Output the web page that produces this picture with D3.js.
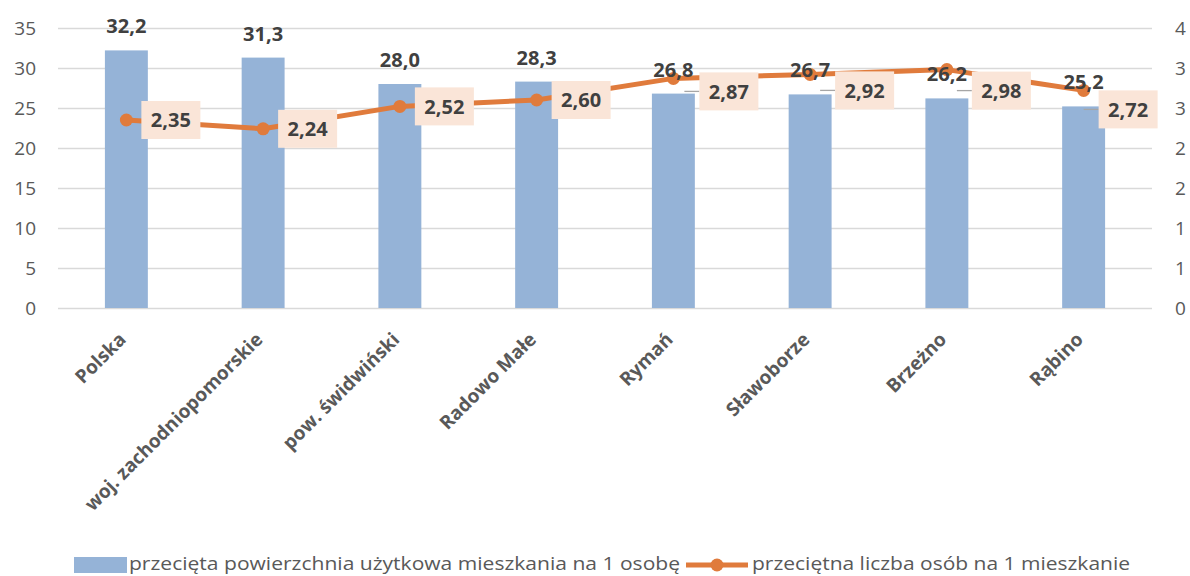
<!DOCTYPE html>
<html>
<head>
<meta charset="utf-8">
<script src="https://cdn.jsdelivr.net/npm/d3@7"></script>
<style>
  body { margin: 0; background: #fff; }
  svg { display: block; font-family: "Open Sans", sans-serif; }
</style>
</head>
<body>
<svg id="chart" width="1190" height="576"></svg>
<script>
// DATA
const categories = ["Polska", "woj. zachodniopomorskie", "pow. świdwiński", "Radowo Małe",
                    "Rymań", "Sławoborze", "Brzeżno", "Rąbino"];
const areaPerPerson = [32.2, 31.3, 28.0, 28.3, 26.8, 26.7, 26.2, 25.2];
const personsPerFlat = [2.35, 2.24, 2.52, 2.60, 2.87, 2.92, 2.98, 2.72];
const leftTicks = [0, 5, 10, 15, 20, 25, 30, 35];
const rightTicks = [0, 0.5, 1, 1.5, 2, 2.5, 3, 3.5];
const seriesNames = ["przecięta powierzchnia użytkowa mieszkania na 1 osobę",
                     "przeciętna liczba osób na 1 mieszkanie"];

// label box placement (layout only, px right / down from the point)
const boxDx = [15, 15, 15, 15, 26, 25, 25, 15];
const boxNudge = [0, 0, 0, 0, 13, 16, 21, 19];

// SETUP
const svg = d3.select("#chart");
const margin = { top: 28, right: 1190 - 1152, bottom: 576 - 308, left: 58 };
const barColor = "#95B3D7", lineColor = "#E07B3C", gridColor = "#D9D9D9", textColor = "#595959";
const pl = d3.formatLocale({ decimal: ",", thousands: " ", grouping: [3], currency: ["", " zł"] });

const x = d3.scaleBand().domain(categories)
    .range([margin.left, 1190 - margin.right])
    .paddingInner(0.686).paddingOuter(0.343);
const yL = d3.scaleLinear().domain([0, 35]).range([308, 28]);
const yR = d3.scaleLinear().domain([0, 3.5]).range([308, 28]);

// gridlines
svg.append("g")
    .attr("transform", "translate(" + margin.left + ",0)")
    .call(d3.axisLeft(yL).tickValues(leftTicks).tickSize(-(1152 - margin.left)).tickFormat(""))
    .call(g => g.select(".domain").remove())
    .call(g => g.selectAll("line").attr("stroke", gridColor).attr("stroke-width", 1.3));

// left axis labels
svg.append("g")
    .attr("transform", "translate(36,0)")
    .call(d3.axisLeft(yL).tickValues(leftTicks).tickSize(0).tickPadding(0))
    .call(g => g.select(".domain").remove())
    .call(g => g.selectAll("text").attr("fill", textColor).style("font-size", "19px")
        .style("font-family", "'Open Sans', sans-serif"));

// right axis labels
svg.append("g")
    .attr("transform", "translate(1175,0)")
    .call(d3.axisRight(yR).tickValues(rightTicks).tickSize(0).tickPadding(0).tickFormat(d3.format(".0f")))
    .call(g => g.select(".domain").remove())
    .call(g => g.selectAll("text").attr("fill", textColor).style("font-size", "19px")
        .style("font-family", "'Open Sans', sans-serif"));

// bars
svg.append("g").selectAll("rect")
    .data(categories)
    .join("rect")
    .attr("x", d => x(d))
    .attr("y", (d, i) => yL(areaPerPerson[i]))
    .attr("width", x.bandwidth())
    .attr("height", (d, i) => yL(0) - yL(areaPerPerson[i]))
    .attr("fill", barColor);

// x labels
const cx = d => x(d) + x.bandwidth() / 2;
svg.append("g").selectAll("text")
    .data(categories)
    .join("text")
    .attr("transform", d => "translate(" + (cx(d) - 4) + ",336) rotate(-45)")
    .attr("text-anchor", "end")
    .attr("dy", "0.35em")
    .attr("fill", textColor)
    .style("font-size", "19px")
    .style("font-weight", "bold")
    .text(d => d);

// line
const line = d3.line()
    .x(d => cx(d))
    .y((d, i) => yR(personsPerFlat[i]));
svg.append("path")
    .datum(categories)
    .attr("d", line)
    .attr("fill", "none")
    .attr("stroke", lineColor)
    .attr("stroke-width", 5)
    .attr("stroke-linejoin", "round");

svg.append("g").selectAll("circle")
    .data(categories)
    .join("circle")
    .attr("cx", d => cx(d))
    .attr("cy", (d, i) => yR(personsPerFlat[i]))
    .attr("r", 6.5)
    .attr("fill", lineColor);

// bar value labels
svg.append("g").selectAll("text")
    .data(categories)
    .join("text")
    .attr("x", d => cx(d))
    .attr("y", (d, i) => yL(areaPerPerson[i]) - 24)
    .attr("dy", "0.35em")
    .attr("text-anchor", "middle")
    .attr("fill", "#404040")
    .style("font-size", "20px")
    .style("font-weight", "bold")
    .text((d, i) => pl.format(".1f")(areaPerPerson[i]));

// line value labels (boxes + leaders)
const boxW = 59, boxH = 38;
const lab = svg.append("g").selectAll("g")
    .data(categories)
    .join("g")
    .attr("transform", (d, i) => "translate(" + (cx(d) + boxDx[i]) + "," + (yR(personsPerFlat[i]) + boxNudge[i]) + ")");

lab.filter((d, i) => boxNudge[i] > 0)
    .append("polyline")
    .attr("points", (d, i) => [[-boxDx[i], -boxNudge[i]], [-12, 0], [0, 0]].map(p => p.join(",")).join(" "))
    .attr("fill", "none")
    .attr("stroke", "#A6A6A6")
    .attr("stroke-width", 1.3);

lab.append("rect")
    .attr("x", 0).attr("y", -boxH / 2)
    .attr("width", boxW).attr("height", boxH)
    .attr("fill", "#FAE5D8");

lab.append("text")
    .attr("x", boxW / 2)
    .attr("dy", "0.36em")
    .attr("text-anchor", "middle")
    .attr("fill", "#404040")
    .style("font-size", "20px")
    .style("font-weight", "bold")
    .text((d, i) => pl.format(".2f")(personsPerFlat[i]));

// legend
const leg = svg.append("g").style("font-size", "18px").attr("fill", textColor);
leg.append("rect").attr("x", 74).attr("y", 557).attr("width", 53).attr("height", 16).attr("fill", barColor);
leg.append("text").attr("x", 129).attr("y", 564).attr("dy", "0.35em")
    .attr("textLength", 551).attr("lengthAdjust", "spacingAndGlyphs").text(seriesNames[0]);
leg.append("line").attr("x1", 686).attr("x2", 748).attr("y1", 565).attr("y2", 565)
    .attr("stroke", lineColor).attr("stroke-width", 5);
leg.append("circle").attr("cx", 717).attr("cy", 565).attr("r", 6.5).attr("fill", lineColor);
leg.append("text").attr("x", 752).attr("y", 564).attr("dy", "0.35em")
    .attr("textLength", 378).attr("lengthAdjust", "spacingAndGlyphs").text(seriesNames[1]);
</script>
</body>
</html>
